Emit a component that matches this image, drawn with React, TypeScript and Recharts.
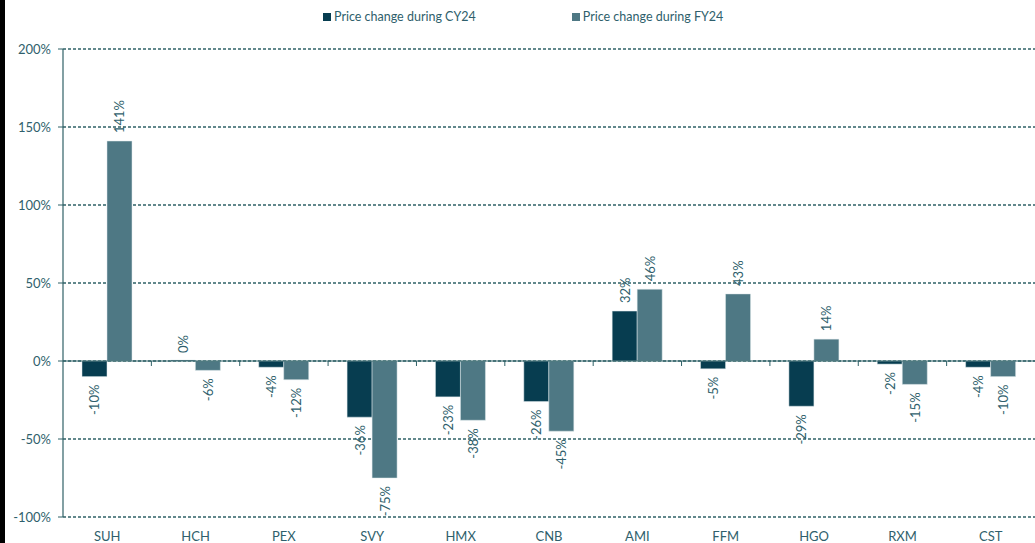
import React from "react";
import {
  BarChart, Bar, XAxis, YAxis, CartesianGrid, ReferenceLine, LabelList,
} from "recharts";

const tickers = ["SUH", "HCH", "PEX", "SVY", "HMX", "CNB", "AMI", "FFM", "HGO", "RXM", "CST"];
const cy24 = [-10, 0, -4, -36, -23, -26, 32, -5, -29, -2, -4];
const fy24 = [141, -6, -12, -75, -38, -45, 46, 43, 14, -15, -10];
const yTicks = [-100, -50, 0, 50, 100, 150, 200];
const seriesNames = ["Price change during CY24", "Price change during FY24"];

const DARK = "#073d50";
const LIGHT = "#4e7884";
const TEXT = "#2f5f6c";
const GRID = "#2f6167";
const FONT = "Lato, 'Open Sans', sans-serif";

const data = tickers.map((t, i) => ({ name: t, cy: cy24[i], fy: fy24[i] }));

// eslint-disable-next-line @typescript-eslint/no-explicit-any
function RotLabel(props: any) {
  const { x, y, width, height, value } = props;
  const cx = x + width / 2;
  const pos = value >= 0;
  const top = pos ? (value === 0 ? y + height : Math.min(y, y + height)) : Math.min(y, y + height);
  const bottom = Math.max(y, y + height);
  const ty = pos ? top - 8 : bottom + 8;
  return (
    <text
      x={cx}
      y={ty}
      transform={`rotate(-90 ${cx} ${ty})`}
      textAnchor={pos ? "start" : "end"}
      dominantBaseline="central"
      fontSize={13}
      fontFamily={FONT}
      fill={TEXT}
    >
      {`${value}%`}
    </text>
  );
}

// eslint-disable-next-line @typescript-eslint/no-explicit-any
function ZeroAxis(props: any) {
  const { x1, x2, y1 } = props;
  const step = (x2 - x1) / tickers.length;
  return (
    <g>
      <line x1={x1} x2={x2} y1={y1} y2={y1} stroke={GRID} strokeWidth={1.2} />
      {tickers.slice(1).map((t, i) => (
        <line
          key={t}
          x1={x1 + step * (i + 1)}
          x2={x1 + step * (i + 1)}
          y1={y1}
          y2={y1 + 5}
          stroke={GRID}
          strokeWidth={1}
        />
      ))}
    </g>
  );
}

export default function App() {
  return (
    <div style={{ position: "absolute", top: 0, left: 0, width: 1035, height: 543, background: "#fff", overflow: "hidden" }}>
      <div style={{ position: "absolute", left: 0, top: 0, width: 5, height: 543, background: "#000" }} />
      <div
        style={{
          position: "absolute", top: 9, left: 323, display: "flex", gap: 96,
          fontFamily: FONT, fontSize: 12.5, color: TEXT, lineHeight: "16px",
        }}
      >
        {seriesNames.map((n, i) => (
          <div key={n} style={{ display: "flex", alignItems: "center" }}>
            <span style={{ width: 8, height: 8, background: i === 0 ? DARK : LIGHT, marginRight: 3, display: "inline-block" }} />
            {n}
          </div>
        ))}
      </div>
      <BarChart
        width={1035}
        height={543}
        data={data}
        margin={{ top: 49, right: 0, bottom: 0, left: 0 }}
        barCategoryGap="21.5%"
        barGap={0}
      >
        <CartesianGrid vertical={false} stroke={GRID} strokeWidth={1.3} strokeDasharray="3 2" />
        <XAxis
          dataKey="name"
          height={26}
          axisLine={false}
          tickLine={false}
          tickMargin={9}
          tick={{ fontSize: 13, fontFamily: FONT, fill: TEXT }}
          interval={0}
        />
        <YAxis
          width={63}
          domain={[-100, 200]}
          ticks={yTicks}
          tickFormatter={(v) => `${v}%`}
          axisLine={{ stroke: GRID, strokeWidth: 1.2 }}
          tickLine={{ stroke: GRID }}
          tickSize={5}
          tickMargin={7}
          tick={{ fontSize: 13, fontFamily: FONT, fill: TEXT }}
          allowDataOverflow
        />
        <ReferenceLine y={0} shape={<ZeroAxis />} />
        <Bar dataKey="cy" name={seriesNames[0]} fill={DARK} stroke="#dfe8ea" strokeWidth={0.5} minPointSize={1} isAnimationActive={false}>
          <LabelList dataKey="cy" content={<RotLabel />} />
        </Bar>
        <Bar dataKey="fy" name={seriesNames[1]} fill={LIGHT} stroke="#dfe8ea" strokeWidth={0.5} isAnimationActive={false}>
          <LabelList dataKey="fy" content={<RotLabel />} />
        </Bar>
      </BarChart>
    </div>
  );
}
